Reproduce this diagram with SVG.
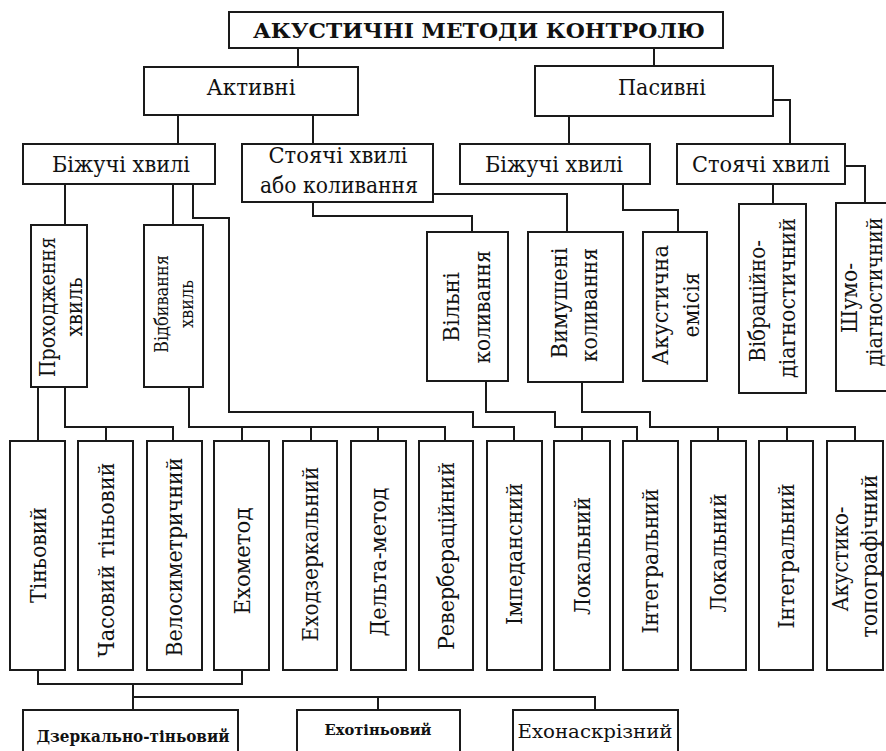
<svg xmlns="http://www.w3.org/2000/svg" width="886" height="751" viewBox="0 0 886 751">
<style>
rect{fill:#fff;stroke:#1a1a1a;stroke-width:2}
.c path{fill:none;stroke:#1a1a1a;stroke-width:2}
text{font-family:'DejaVu Serif','Liberation Serif',serif;font-size:22px;fill:#111;text-anchor:middle}
.t{font-weight:bold;font-size:21px}
.s{font-size:19px}
.b{font-weight:bold;font-size:16px}
.b2{font-weight:bold;font-size:15px}
.m{font-size:18px}
</style>
<rect x="0" y="0" width="886" height="751" style="stroke:none"/>
<g class="c">
<path d="M298 48V67M654 48V66"/>
<path d="M178 115V144M313 115V144"/>
<path d="M569 116V144M773 100H790V144"/>
<path d="M313 202V216H472V232M433 194H567V232"/>
<path d="M623 184V210H678V232"/>
<path d="M773 184V204M845 166H865V203"/>
<path d="M65 184V225M173 184V225M193 184V218H229V412H473V427H514V440"/>
<path d="M38 387V440M65 387V427H173V440M106 427V440"/>
<path d="M189 387V427H445V440M242 427V440M311 427V440M378 427V440"/>
<path d="M486 381V412H555V427H637V440M582 427V440"/>
<path d="M582 382V412H650V427H855V440M718 427V440M787 427V440"/>
<path d="M38 670V684H242V670M133 684V710M133 697H595V710M378 697V710"/>
</g>
<g id="title"><rect x="229" y="12" width="494" height="36"/><text class="t" x="479" y="38" textLength="452" lengthAdjust="spacingAndGlyphs">АКУСТИЧНІ МЕТОДИ КОНТРОЛЮ</text></g>
<g id="active"><rect x="144" y="67" width="214" height="48"/><text x="251" y="95" textLength="89" lengthAdjust="spacingAndGlyphs">Активні</text></g>
<g id="passive"><rect x="535" y="66" width="238" height="50"/><text x="662" y="95" textLength="88" lengthAdjust="spacingAndGlyphs">Пасивні</text></g>
<g id="run-a"><rect x="23" y="144" width="192" height="40"/><text x="121" y="172" textLength="138" lengthAdjust="spacingAndGlyphs">Біжучі хвилі</text></g>
<g id="stand-a"><rect x="242" y="144" width="191" height="58"/><text x="338" y="163" textLength="139" lengthAdjust="spacingAndGlyphs">Стоячі хвилі</text><text x="339" y="193" textLength="158" lengthAdjust="spacingAndGlyphs">або коливання</text></g>
<g id="run-p"><rect x="460" y="144" width="190" height="40"/><text x="554" y="172" textLength="138" lengthAdjust="spacingAndGlyphs">Біжучі хвилі</text></g>
<g id="stand-p"><rect x="677" y="144" width="168" height="40"/><text x="761" y="172" textLength="138" lengthAdjust="spacingAndGlyphs">Стоячі хвилі</text></g>
<g id="pass"><rect x="31" y="225" width="56" height="162"/><text transform="translate(55 307) rotate(-90)" textLength="140" lengthAdjust="spacingAndGlyphs">Проходження</text><text transform="translate(82 307) rotate(-90)" textLength="59" lengthAdjust="spacingAndGlyphs">хвиль</text></g>
<g id="refl"><rect x="144" y="225" width="59" height="162"/><text class="s" transform="translate(168 304) rotate(-90)" textLength="98" lengthAdjust="spacingAndGlyphs">Відбивання</text><text class="s" transform="translate(193 304) rotate(-90)" textLength="48" lengthAdjust="spacingAndGlyphs">хвиль</text></g>
<g id="free"><rect x="427" y="232" width="81" height="149"/><text transform="translate(459 307) rotate(-90)" textLength="70" lengthAdjust="spacingAndGlyphs">Вільні</text><text transform="translate(490 307) rotate(-90)" textLength="113" lengthAdjust="spacingAndGlyphs">коливання</text></g>
<g id="forced"><rect x="528" y="232" width="95" height="150"/><text transform="translate(567 303) rotate(-90)" textLength="111" lengthAdjust="spacingAndGlyphs">Вимушені</text><text transform="translate(597 305) rotate(-90)" textLength="114" lengthAdjust="spacingAndGlyphs">коливання</text></g>
<g id="emission"><rect x="643" y="232" width="64" height="149"/><text transform="translate(668 305) rotate(-90)" textLength="120" lengthAdjust="spacingAndGlyphs">Акустична</text><text transform="translate(699 305) rotate(-90)" textLength="65" lengthAdjust="spacingAndGlyphs">емісія</text></g>
<g id="vibro"><rect x="739" y="204" width="67" height="189"/><text transform="translate(765 301) rotate(-90)" textLength="122" lengthAdjust="spacingAndGlyphs">Вібраційно-</text><text transform="translate(795 298) rotate(-90)" textLength="160" lengthAdjust="spacingAndGlyphs">діагностичний</text></g>
<g id="noise"><rect x="836" y="203" width="70" height="188"/><text transform="translate(857 298) rotate(-90)" textLength="70" lengthAdjust="spacingAndGlyphs">Шумо-</text><text transform="translate(882 292) rotate(-90)" textLength="149" lengthAdjust="spacingAndGlyphs">діагностичний</text></g>
<g id="m1"><rect x="10" y="441" width="55" height="229"/><text transform="translate(46 555) rotate(-90)" textLength="96" lengthAdjust="spacingAndGlyphs">Тіньовий</text></g>
<g id="m2"><rect x="78" y="441" width="55" height="229"/><text transform="translate(114 560) rotate(-90)" textLength="195" lengthAdjust="spacingAndGlyphs">Часовий тіньовий</text></g>
<g id="m3"><rect x="147" y="441" width="55" height="229"/><text transform="translate(182 557) rotate(-90)" textLength="199" lengthAdjust="spacingAndGlyphs">Велосиметричний</text></g>
<g id="m4"><rect x="214" y="441" width="55" height="229"/><text transform="translate(250 561) rotate(-90)" textLength="107" lengthAdjust="spacingAndGlyphs">Ехометод</text></g>
<g id="m5"><rect x="283" y="441" width="54" height="229"/><text transform="translate(318 554) rotate(-90)" textLength="175" lengthAdjust="spacingAndGlyphs">Еходзеркальний</text></g>
<g id="m6"><rect x="351" y="441" width="55" height="229"/><text transform="translate(386 562) rotate(-90)" textLength="149" lengthAdjust="spacingAndGlyphs">Дельта-метод</text></g>
<g id="m7"><rect x="419" y="441" width="54" height="229"/><text transform="translate(454 556) rotate(-90)" textLength="188" lengthAdjust="spacingAndGlyphs">Ревербераційний</text></g>
<g id="m8"><rect x="487" y="441" width="55" height="229"/><text transform="translate(522 554) rotate(-90)" textLength="142" lengthAdjust="spacingAndGlyphs">Імпедансний</text></g>
<g id="m9"><rect x="554" y="441" width="56" height="229"/><text transform="translate(590 556) rotate(-90)" textLength="118" lengthAdjust="spacingAndGlyphs">Локальний</text></g>
<g id="m10"><rect x="623" y="441" width="55" height="229"/><text transform="translate(658 561) rotate(-90)" textLength="145" lengthAdjust="spacingAndGlyphs">Інтегральний</text></g>
<g id="m11"><rect x="691" y="441" width="55" height="229"/><text transform="translate(726 553) rotate(-90)" textLength="119" lengthAdjust="spacingAndGlyphs">Локальний</text></g>
<g id="m12"><rect x="759" y="441" width="54" height="229"/><text transform="translate(794 556) rotate(-90)" textLength="145" lengthAdjust="spacingAndGlyphs">Інтегральний</text></g>
<g id="m13"><rect x="827" y="441" width="56" height="229"/><text transform="translate(848 559) rotate(-90)" textLength="105" lengthAdjust="spacingAndGlyphs">Акустико-</text><text transform="translate(877 556) rotate(-90)" textLength="163" lengthAdjust="spacingAndGlyphs">топографічний</text></g>
<g id="mirror"><rect x="23" y="710" width="215" height="50"/><text class="b" x="133" y="742" textLength="193" lengthAdjust="spacingAndGlyphs">Дзеркально-тіньовий</text></g>
<g id="echoshadow"><rect x="297" y="710" width="163" height="50"/><text class="b2" x="378" y="735" textLength="107" lengthAdjust="spacingAndGlyphs">Ехотіньовий</text></g>
<g id="echothrough"><rect x="513" y="710" width="165" height="50"/><text class="m" x="595" y="738" textLength="155" lengthAdjust="spacingAndGlyphs">Ехонаскрізний</text></g>
</svg>
